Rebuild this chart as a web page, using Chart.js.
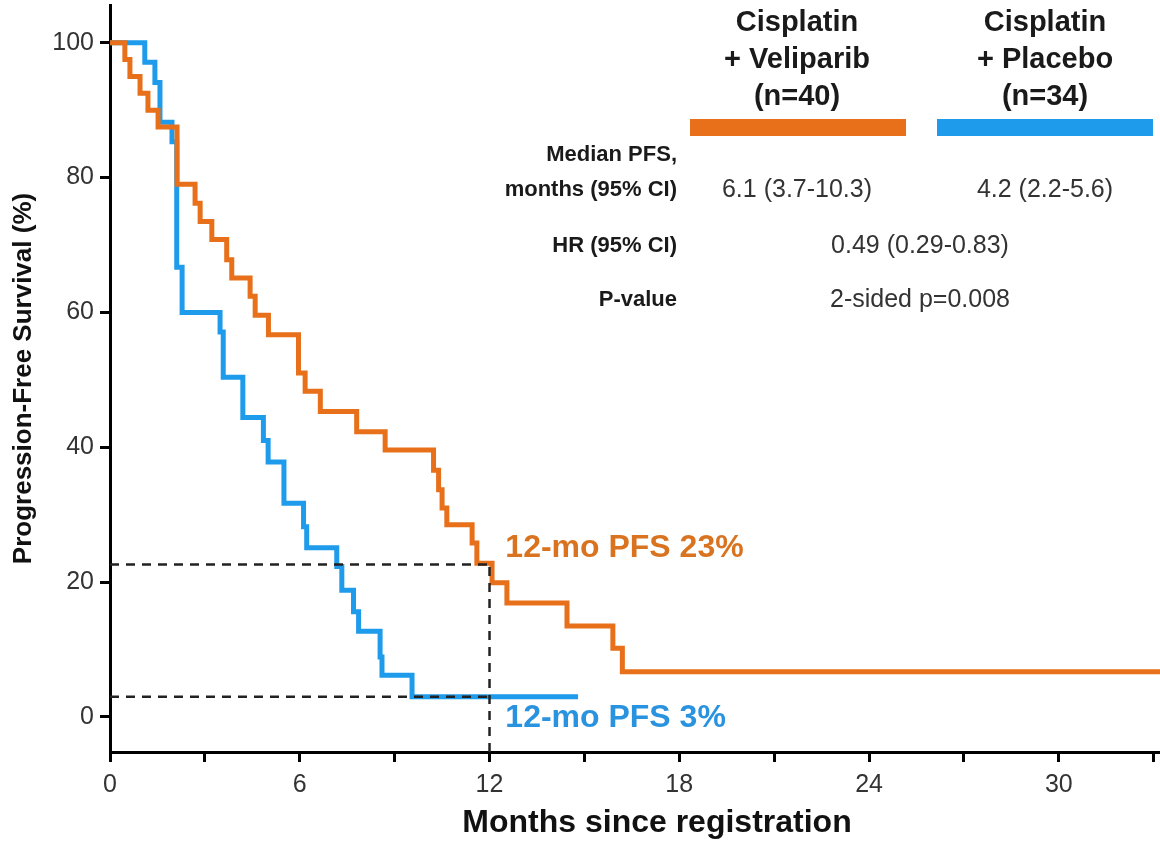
<!DOCTYPE html>
<html>
<head>
<meta charset="utf-8">
<script src="https://cdn.jsdelivr.net/npm/chart.js@4/dist/chart.umd.min.js"></script>
<style>
  html, body { margin: 0; padding: 0; background: #fff; }
  #wrap { width: 1160px; height: 843px; position: relative; }
</style>
</head>
<body>
<div id="wrap"><canvas id="pfsChart"></canvas></div>
<script>
// Curva de Kaplan-Meier: tiempo (meses) en que cae la curva y nuevo valor (%)
const veliparibTime = [0, 0.47, 0.63, 0.95, 1.2, 1.52, 2.12, 2.69, 2.85, 3.22, 3.69, 3.85, 4.43, 4.59, 5.01, 5.96, 6.17, 6.65, 7.8, 8.7, 10.23, 10.39, 10.5, 10.65, 11.45, 11.6, 12.08, 12.55, 14.45, 15.9, 16.2, 33.2];
const veliparibPFS = [100, 97.5, 95, 92.5, 90, 87.5, 79, 76.2, 73.5, 70.8, 67.8, 65.1, 62.4, 59.6, 56.7, 51.0, 48.3, 45.3, 42.3, 39.6, 36.6, 33.7, 31.0, 28.5, 25.8, 22.8, 19.9, 16.9, 13.5, 10.2, 6.7, 6.7];

const placeboTime = [0, 1.1, 1.42, 1.58, 1.96, 2.11, 2.28, 3.48, 3.58, 4.2, 4.85, 5.0, 5.5, 6.12, 6.22, 7.17, 7.33, 7.7, 7.86, 8.54, 8.6, 9.55, 14.8];
const placeboPFS = [100, 97.1, 94.1, 88.2, 85.3, 66.7, 60.0, 57.1, 50.4, 44.4, 41.0, 37.8, 31.7, 28.2, 25.1, 22.3, 18.8, 15.6, 12.7, 8.9, 6.2, 3.0, 3.0];

// Supervivencia a 12 meses
const landmarkMonth = 12;
const landmarkPFS = [22.6, 3.0];
const landmarkLabels = ['12-mo PFS 23%', '12-mo PFS 3%'];

const xTicks = [0, 6, 12, 18, 24, 30];
const yTicks = [0, 20, 40, 60, 80, 100];

const armNames = [['Cisplatin', '+ Veliparib', '(n=40)'], ['Cisplatin', '+ Placebo', '(n=34)']];
const medianPFS = ['6.1 (3.7-10.3)', '4.2 (2.2-5.6)'];
const hrText = '0.49 (0.29-0.83)';
const pText = '2-sided p=0.008';
const xTitle = 'Months since registration';

const ORANGE = '#E8701A';
const BLUE = '#1E9BEA';
const FONT = '"Liberation Sans", Arial, sans-serif';

const xMin = 0, xMax = 33.2, yMin = -5.2, yMax = 105.6;

function toPoints(xs, ys) {
    return xs.map((x, i) => ({ x: x, y: ys[i] }));
}

const dashStyle = {
    borderColor: '#222',
    borderWidth: 2.5,
    borderDash: [9, 7],
    pointRadius: 0,
    fill: false
};

// Texto de la tabla y anotaciones
const textPlugin = {
    id: 'pfsText',
    afterDraw(chart) {
        const ctx = chart.ctx;
        const xs = chart.scales.x, ys = chart.scales.y;
        ctx.save();

        // etiquetas 12 meses
        ctx.textAlign = 'left';
        ctx.textBaseline = 'middle';
        ctx.font = 'bold 32px ' + FONT;
        ctx.fillStyle = '#D9731F';
        ctx.fillText(landmarkLabels[0], xs.getPixelForValue(landmarkMonth + 0.5), ys.getPixelForValue(landmarkPFS[0] + 2.5));
        ctx.fillStyle = '#2A93DF';
        ctx.fillText(landmarkLabels[1], xs.getPixelForValue(landmarkMonth + 0.5), ys.getPixelForValue(landmarkPFS[1] - 3.2));

        // título del eje x (un poco desplazado a la derecha, como el original)
        ctx.textAlign = 'center';
        ctx.fillStyle = '#111';
        ctx.font = 'bold 32px ' + FONT;
        ctx.fillText(xTitle, 657, 823);

        // cabecera
        ctx.fillStyle = '#1a1a1a';
        ctx.font = 'bold 29px ' + FONT;
        const colX = [797, 1045];
        armNames.forEach((lines, c) => {
            lines.forEach((t, i) => ctx.fillText(t, colX[c], 23 + i * 37));
        });
        ctx.fillStyle = ORANGE;
        ctx.fillRect(690, 119, 216, 17);
        ctx.fillStyle = BLUE;
        ctx.fillRect(937, 119, 216, 17);

        // filas
        ctx.textAlign = 'right';
        ctx.fillStyle = '#1a1a1a';
        ctx.font = 'bold 22px ' + FONT;
        ctx.fillText('Median PFS,', 677, 155);
        ctx.fillText('months (95% CI)', 677, 190);
        ctx.fillText('HR (95% CI)', 677, 246);
        ctx.fillText('P-value', 677, 300);

        ctx.textAlign = 'center';
        ctx.fillStyle = '#333';
        ctx.font = '25px ' + FONT;
        ctx.fillText(medianPFS[0], colX[0], 190);
        ctx.fillText(medianPFS[1], colX[1], 190);
        ctx.fillText(hrText, 920, 246);
        ctx.fillText(pText, 920, 300);
        ctx.restore();
    }
};

const ctx = document.getElementById('pfsChart').getContext('2d');
const pfsChart = new Chart(ctx, {
    type: 'line',
    data: {
        datasets: [
            Object.assign({ label: 'ref23', data: [{ x: xMin, y: landmarkPFS[0] }, { x: landmarkMonth, y: landmarkPFS[0] }] }, dashStyle),
            Object.assign({ label: 'ref3', data: [{ x: xMin, y: landmarkPFS[1] }, { x: landmarkMonth, y: landmarkPFS[1] }] }, dashStyle),
            Object.assign({ label: 'ref12', data: [{ x: landmarkMonth, y: yMin }, { x: landmarkMonth, y: landmarkPFS[0] }] }, dashStyle),
            {
                label: 'Cisplatin + Veliparib',
                data: toPoints(veliparibTime, veliparibPFS),
                borderColor: ORANGE,
                borderWidth: 5,
                stepped: 'before',
                pointRadius: 0,
                fill: false
            },
            {
                label: 'Cisplatin + Placebo',
                data: toPoints(placeboTime, placeboPFS),
                borderColor: BLUE,
                borderWidth: 5,
                stepped: 'before',
                pointRadius: 0,
                fill: false
            }
        ]
    },
    options: {
        responsive: true,
        maintainAspectRatio: false,
        animation: false,
        layout: { padding: { top: 5, right: 0, left: 0, bottom: 0 } },
        plugins: {
            legend: { display: false },
            tooltip: { enabled: false }
        },
        scales: {
            x: {
                type: 'linear',
                min: xMin,
                max: xMax,
                border: { color: '#000', width: 3 },
                grid: { drawOnChartArea: false, drawTicks: true, tickLength: 10, tickColor: '#000', tickWidth: 3 },
                ticks: {
                    stepSize: 3,
                    includeBounds: false,
                    color: '#333',
                    font: { family: FONT, size: 25 },
                    padding: 8,
                    maxRotation: 0,
                    autoSkip: false,
                    callback: v => xTicks.includes(v) ? String(v) : ''
                },
                title: { display: false },
                afterFit: scale => {
                    scale.height = 91;
                    scale.paddingLeft = 0;
                    scale.paddingRight = 0;
                }
            },
            y: {
                type: 'linear',
                min: yMin,
                max: yMax,
                border: { color: '#000', width: 3 },
                grid: { drawOnChartArea: false, drawTicks: true, tickLength: 10, tickColor: '#000', tickWidth: 3 },
                ticks: {
                    stepSize: 20,
                    includeBounds: false,
                    color: '#333',
                    font: { family: FONT, size: 25 },
                    padding: 6,
                    callback: v => yTicks.includes(v) ? String(v) : ''
                },
                title: {
                    display: true,
                    text: 'Progression-Free Survival (%)',
                    color: '#111',
                    font: { family: FONT, size: 26, weight: 'bold' },
                    padding: { top: 8, bottom: 2 }
                },
                afterFit: scale => {
                    scale.width = 110;
                    scale.paddingTop = 0;
                    scale.paddingBottom = 0;
                }
            }
        }
    },
    plugins: [textPlugin]
});
</script>
</body>
</html>
